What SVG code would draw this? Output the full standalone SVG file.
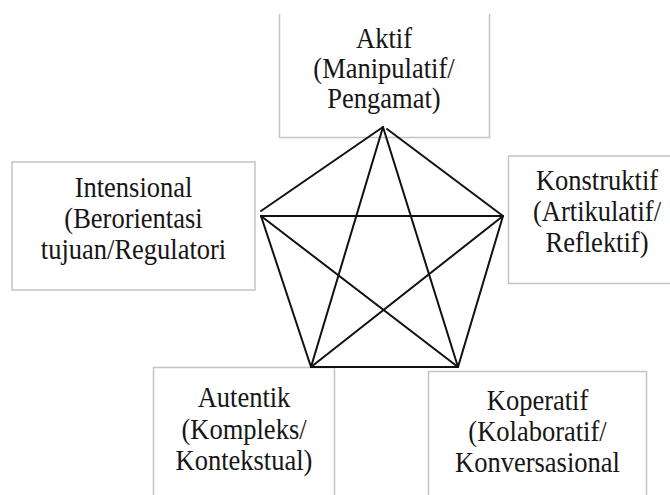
<svg xmlns="http://www.w3.org/2000/svg" width="670" height="495" viewBox="0 0 670 495">
  <style>
    .box { fill: #ffffff; stroke: #c4c4c4; stroke-width: 1.5; }
    .label { font-family: "Liberation Serif", "Times New Roman", serif; font-size: 29px; fill: #161616; text-anchor: middle; }
    .edge { stroke: #111111; stroke-width: 2; stroke-linecap: round; fill: none; }
  </style>
  <rect width="670" height="495" fill="#ffffff"/>

  <!-- Aktif (top) -->
  <g id="node-aktif">
    <path class="box" d="M279.5 14 V137.5 H489.5 V14"/>
    <g transform="translate(384 0) scale(0.914 1)">
      <text class="label" x="0" y="48">Aktif</text>
      <text class="label" x="0" y="78">(Manipulatif/</text>
      <text class="label" x="0" y="108">Pengamat)</text>
    </g>
  </g>

  <!-- Intensional (left) -->
  <g id="node-intensional">
    <rect class="box" x="12" y="162" width="243" height="128"/>
    <g transform="translate(133.5 0) scale(0.914 1)">
      <text class="label" x="0" y="197">Intensional</text>
      <text class="label" x="0" y="228">(Berorientasi</text>
      <text class="label" x="0" y="259">tujuan/Regulatori</text>
    </g>
  </g>

  <!-- Konstruktif (right) -->
  <g id="node-konstruktif">
    <path class="box" d="M672 156 H508.5 V283.5 H672"/>
    <g transform="translate(597 0) scale(0.914 1)">
      <text class="label" x="0" y="190">Konstruktif</text>
      <text class="label" x="0" y="221">(Artikulatif/</text>
      <text class="label" x="0" y="252">Reflektif)</text>
    </g>
  </g>

  <!-- Autentik (bottom left) -->
  <g id="node-autentik">
    <path class="box" d="M153.5 497 V367.5 H334.5 V497"/>
    <g transform="translate(244 0) scale(0.914 1)">
      <text class="label" x="0" y="407">Autentik</text>
      <text class="label" x="0" y="439">(Kompleks/</text>
      <text class="label" x="0" y="470">Kontekstual)</text>
    </g>
  </g>

  <!-- Koperatif (bottom right) -->
  <g id="node-koperatif">
    <path class="box" d="M428.5 497 V371.5 H646.5 V497"/>
    <g transform="translate(537.5 0) scale(0.914 1)">
      <text class="label" x="0" y="410">Koperatif</text>
      <text class="label" x="0" y="441">(Kolaboratif/</text>
      <text class="label" x="0" y="472">Konversasional</text>
    </g>
  </g>

  <!-- Connectors: pentagon with inscribed star -->
  <g id="connectors">
    <line class="edge" x1="383" y1="127" x2="261" y2="211"/>
    <line class="edge" x1="387" y1="129" x2="503" y2="216"/>
    <line class="edge" x1="261" y1="216" x2="503" y2="216"/>
    <line class="edge" x1="261" y1="216" x2="311" y2="367"/>
    <line class="edge" x1="503" y1="216" x2="458" y2="367"/>
    <line class="edge" x1="311" y1="367" x2="458" y2="367"/>
    <line class="edge" x1="383" y1="127" x2="311" y2="367"/>
    <line class="edge" x1="383" y1="127" x2="458" y2="367"/>
    <line class="edge" x1="261" y1="216" x2="458" y2="367"/>
    <line class="edge" x1="503" y1="216" x2="311" y2="367"/>
  </g>
</svg>
